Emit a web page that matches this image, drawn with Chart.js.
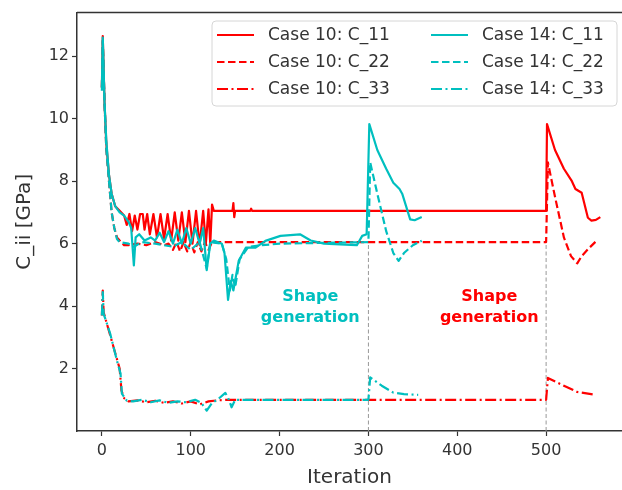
<!DOCTYPE html>
<html>
<head>
<meta charset="utf-8">
<script src="https://cdn.jsdelivr.net/npm/chart.js@4.4.0/dist/chart.umd.min.js"></script>
<style>
  html, body { margin: 0; padding: 0; background: #fff; }
  #wrap { width: 622px; height: 490px; }
</style>
</head>
<body>
<div id="wrap"><canvas id="myChart" width="622" height="490"></canvas></div>
<script>
// values, [iteration, C_ii in GPa]
var case10_c11 = [[0,11.0],[1,12.65],[3,10.5],[5,9.2],[8,8.2],[11,7.6],[15,7.2],[20,7.05],[25,6.9],[28,6.6],[31,6.95],[34,6.4],[37,6.9],[40,6.45],[43,6.95],[46,6.95],[48,6.45],[51,6.95],[54,6.3],[58,6.95],[62,6.2],[66,6.95],[70,6.15],[74,6.95],[78,6.1],[82,7.0],[86,6.1],[90,7.0],[94,6.05],[98,7.05],[102,6.0],[106,7.05],[110,5.95],[114,7.05],[117,6.0],[120,7.1],[122,6.0],[124,7.25],[126,7.05],[147,7.05],[148,7.3],[149,6.85],[150,7.05],[167,7.05],[168,7.12],[169,7.05],[500,7.05],[501,9.83],[510,9.0],[520,8.4],[529,8.0],[533,7.75],[540,7.63],[547,6.83],[551,6.74],[556,6.76],[561,6.85]];
var case10_c22 = [[0,11.0],[1,12.5],[3,10.5],[5,9.0],[8,8.0],[11,7.0],[14,6.5],[17,6.2],[20,6.1],[25,5.95],[30,5.95],[40,6.0],[50,5.95],[60,6.05],[70,5.95],[75,6.0],[80,5.8],[84,6.05],[88,5.75],[92,6.05],[96,5.75],[100,6.05],[104,5.72],[108,6.05],[112,5.75],[116,6.05],[120,5.8],[124,6.05],[500,6.05],[502,8.6],[510,7.5],[520,6.2],[528,5.6],[535,5.37],[540,5.6],[548,5.85],[557,6.1]];
var case10_c33 = [[0,3.7],[1,4.5],[2,3.8],[5,3.5],[10,3.0],[15,2.5],[20,2.0],[22,1.3],[25,1.05],[30,0.95],[40,0.98],[50,0.92],[60,0.97],[70,0.9],[80,0.95],[90,0.88],[100,0.95],[110,0.85],[120,0.95],[130,0.98],[140,1.0],[500,1.0],[502,1.7],[520,1.45],[535,1.25],[556,1.16]];
var case14_c11 = [[0,10.9],[1,12.6],[3,10.5],[5,9.3],[8,8.2],[11,7.6],[15,7.2],[20,7.0],[25,6.9],[30,6.7],[33,6.5],[36,5.3],[38,6.2],[42,6.3],[48,6.1],[55,6.2],[60,6.1],[65,6.35],[70,6.05],[75,6.4],[80,6.0],[85,6.45],[90,6.0],[95,6.5],[100,6.0],[105,6.5],[110,6.0],[114,6.5],[118,5.15],[122,6.0],[126,6.1],[135,6.0],[138,5.7],[142,4.2],[145,4.8],[148,4.5],[154,5.45],[162,5.87],[173,5.87],[184,6.09],[201,6.25],[223,6.3],[235,6.1],[250,6.0],[280,5.96],[287,5.95],[293,6.25],[298,6.3],[301,9.83],[310,9.0],[320,8.4],[328,7.95],[335,7.75],[338,7.6],[347,6.78],[352,6.75],[360,6.85]];
var case14_c22 = [[0,11.0],[1,12.5],[3,10.5],[5,9.0],[8,8.0],[11,7.0],[14,6.5],[17,6.15],[20,6.05],[30,6.0],[36,5.9],[45,6.05],[60,6.0],[80,5.9],[90,6.05],[100,5.8],[110,6.05],[118,5.2],[122,6.05],[135,6.0],[140,5.5],[144,4.5],[147,5.0],[150,4.6],[155,5.5],[165,5.9],[180,5.95],[200,6.0],[300,6.05],[302,8.6],[310,7.6],[320,6.4],[328,5.7],[334,5.45],[340,5.7],[350,5.95],[360,6.09]];
var case14_c33 = [[0,3.7],[1,4.45],[2,3.75],[5,3.5],[9.5,3.1],[17,2.25],[21,1.84],[22.5,1.2],[28,0.97],[35,0.95],[45,1.0],[55,0.92],[65,0.98],[75,0.9],[85,0.95],[95,0.92],[105,1.0],[112,0.9],[118,0.65],[124,0.9],[130,1.0],[139,1.22],[143,1.0],[146,0.76],[150,1.0],[300,1.0],[302,1.72],[315,1.45],[328,1.23],[340,1.18],[356,1.16]];

var seriesLabels = ["Case 10: C_11", "Case 10: C_22", "Case 10: C_33", "Case 14: C_11", "Case 14: C_22", "Case 14: C_33"];
var shapeGenAt = [300, 500];
var shapeGenTop = 6.05;
var xTicks = [0, 100, 200, 300, 400, 500];
var yTicks = [2, 4, 6, 8, 10, 12];

var RED = "#ff0000";
var CYAN = "#00bfbf";
var DASH = [7.5, 3.5];
var DASHDOT = [11, 3.5, 2, 3.5];

function pts(arr) {
    return arr.map(function(p) { return {x: p[0], y: p[1]}; });
}

function series(label, data, color, dash, order) {
    return {
        label: label,
        data: pts(data),
        borderColor: color,
        backgroundColor: color,
        borderWidth: 2.2,
        borderDash: dash,
        borderJoinStyle: "round",
        pointRadius: 0,
        tension: 0,
        order: order
    };
}

var datasets = [
    series(seriesLabels[0], case10_c11, RED, [], 1),
    series(seriesLabels[1], case10_c22, RED, DASH, 1),
    series(seriesLabels[2], case10_c33, RED, DASHDOT, 1),
    series(seriesLabels[3], case14_c11, CYAN, [], 0),
    series(seriesLabels[4], case14_c22, CYAN, DASH, 0),
    series(seriesLabels[5], case14_c33, CYAN, DASHDOT, 0)
];
// gray dashed markers where shape generation starts
shapeGenAt.forEach(function(x) {
    datasets.push({
        label: "",
        data: [{x: x, y: 0}, {x: x, y: shapeGenTop}],
        borderColor: "#999999",
        borderWidth: 1,
        borderDash: [4, 2.5],
        pointRadius: 0,
        order: 2
    });
});

// top spine, legend box and the two text notes
var extras = {
    id: "extras",
    afterDraw: function(chart) {
        var ctx = chart.ctx;
        var a = chart.chartArea;
        var xs = chart.scales.x;
        ctx.save();
        ctx.strokeStyle = "#333";
        ctx.lineWidth = 1.5;
        ctx.beginPath();
        ctx.moveTo(a.left, a.top);
        ctx.lineTo(a.right, a.top);
        ctx.stroke();

        // notes
        ctx.font = "bold 16px 'DejaVu Sans'";
        ctx.textAlign = "center";
        ctx.textBaseline = "middle";
        var notes = [[234.5, CYAN], [436, RED]];
        notes.forEach(function(n) {
            var px = xs.getPixelForValue(n[0]);
            ctx.fillStyle = n[1];
            ctx.fillText("Shape", px, 297);
            ctx.fillText("generation", px, 318);
        });

        // legend
        var bx = 212, by = 21, bw = 405, bh = 85, r = 4;
        ctx.beginPath();
        ctx.moveTo(bx + r, by);
        ctx.arcTo(bx + bw, by, bx + bw, by + bh, r);
        ctx.arcTo(bx + bw, by + bh, bx, by + bh, r);
        ctx.arcTo(bx, by + bh, bx, by, r);
        ctx.arcTo(bx, by, bx + bw, by, r);
        ctx.closePath();
        ctx.fillStyle = "rgba(255,255,255,0.85)";
        ctx.fill();
        ctx.strokeStyle = "#d6d6d6";
        ctx.lineWidth = 1;
        ctx.stroke();

        ctx.font = "17px 'DejaVu Sans'";
        ctx.textAlign = "left";
        ctx.textBaseline = "middle";
        var rows = [35, 62, 89];
        var cols = [[217, 268], [431, 482]];
        for (var i = 0; i < 6; i++) {
            var ds = chart.data.datasets[i];
            var c = cols[Math.floor(i / 3)];
            var y = rows[i % 3];
            ctx.strokeStyle = ds.borderColor;
            ctx.lineWidth = 2.2;
            ctx.setLineDash(ds.borderDash);
            ctx.beginPath();
            ctx.moveTo(c[0], y);
            ctx.lineTo(c[0] + 37, y);
            ctx.stroke();
            ctx.setLineDash([]);
            ctx.fillStyle = "#333";
            ctx.fillText(ds.label, c[1], y + 1);
        }
        ctx.restore();
    }
};

const ctx = document.getElementById("myChart");
new Chart(ctx, {
    type: "line",
    data: { datasets: datasets },
    plugins: [extras],
    options: {
        responsive: false,
        animation: false,
        events: [],
        layout: { padding: { top: 11, right: 0, left: 0, bottom: 0 } },
        plugins: {
            legend: { display: false },
            tooltip: { enabled: false }
        },
        scales: {
            x: {
                type: "linear",
                min: -28,
                max: 585.4,
                afterBuildTicks: function(s) { s.ticks = xTicks.map(function(v) { return {value: v}; }); },
                afterFit: function(s) { s.height = 59; },
                grid: { drawOnChartArea: false, drawTicks: true, tickLength: 5, color: "#333", tickWidth: 1.2 },
                border: { display: true, color: "#333", width: 1.5 },
                ticks: { color: "#333", font: { family: "DejaVu Sans", size: 16 }, padding: 5, maxRotation: 0 },
                title: { display: true, text: "Iteration", color: "#333", font: { family: "DejaVu Sans", size: 20 }, padding: { top: 0, bottom: 0 } }
            },
            y: {
                type: "linear",
                min: 0,
                max: 13.4,
                afterBuildTicks: function(s) { s.ticks = yTicks.map(function(v) { return {value: v}; }); },
                afterFit: function(s) { s.width = 77; },
                grid: { drawOnChartArea: false, drawTicks: true, tickLength: 5, color: "#333", tickWidth: 1.2 },
                border: { display: true, color: "#333", width: 1.5 },
                ticks: { color: "#333", font: { family: "DejaVu Sans", size: 16 }, padding: 3 },
                title: { display: true, text: "C_ii [GPa]", color: "#333", font: { family: "DejaVu Sans", size: 20 }, padding: { top: 13, bottom: 0 } }
            }
        }
    }
});
</script>
</body>
</html>
